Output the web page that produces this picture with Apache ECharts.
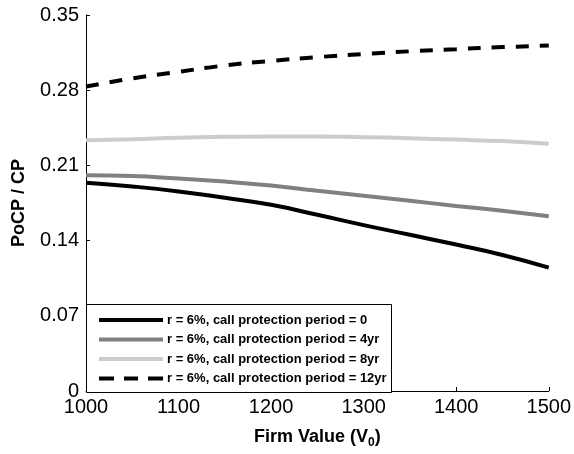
<!DOCTYPE html>
<html>
<head>
<meta charset="utf-8">
<script src="https://cdn.jsdelivr.net/npm/echarts@6/dist/echarts.min.js"></script>
<style>
  html, body { margin: 0; padding: 0; background: #fff; }
  #chart { width: 574px; height: 454px; }
</style>
</head>
<body>
<div id="chart"></div>
<script>
// Firm value grid (V0)
const firmValues = [1000, 1050, 1100, 1150, 1200, 1250, 1300, 1350, 1400, 1450, 1500];

// PoCP / CP ratio for each call protection period (r = 6%)
const period0  = [0.1938, 0.1904, 0.1858, 0.1798, 0.1733, 0.1640, 0.1544, 0.1454, 0.1363, 0.1266, 0.1148];
const period4  = [0.2008, 0.2001, 0.1977, 0.1950, 0.1913, 0.1864, 0.1817, 0.1770, 0.1723, 0.1677, 0.1627];
const period8  = [0.2333, 0.2343, 0.2358, 0.2366, 0.2370, 0.2370, 0.2363, 0.2353, 0.2340, 0.2326, 0.2302];
const period12 = [0.2834, 0.2910, 0.2971, 0.3030, 0.3073, 0.3108, 0.3136, 0.3162, 0.3182, 0.3201, 0.3215];

const seriesNames = [
  'r = 6%, call protection period = 0',
  'r = 6%, call protection period = 4yr',
  'r = 6%, call protection period = 8yr',
  'r = 6%, call protection period = 12yr'
];

const yTicks = [0, 0.07, 0.14, 0.21, 0.28, 0.35];
const xTicks = [1000, 1100, 1200, 1300, 1400, 1500];

function pairs(ys) {
  return firmValues.map((x, i) => [x, ys[i]]);
}

const FONT = 'Liberation Sans, Arial, sans-serif';

// legend swatches: a thick bar for solid lines, three short bars for the dashed one
const SOLID_ICON = 'path://M0,0H64V4H0Z';
const DASH_ICON = 'path://M0,0H15V4H0Z M25,0H39V4H25Z M49,0H64V4H49Z';

const lineDefs = [
  { data: period0,  color: '#000000', type: 'solid', icon: SOLID_ICON },
  { data: period4,  color: '#808080', type: 'solid', icon: SOLID_ICON },
  { data: period8,  color: '#cccccc', type: 'solid', icon: SOLID_ICON },
  { data: period12, color: '#000000', type: [13, 11], icon: DASH_ICON }
];

const chart = echarts.init(document.getElementById('chart'), null, { renderer: 'canvas' });

chart.setOption({
  animation: false,
  backgroundColor: '#ffffff',
  grid: { left: 86, right: 25, top: 15, bottom: 62, containLabel: false },
  xAxis: {
    type: 'value',
    min: xTicks[0],
    max: xTicks[xTicks.length - 1],
    interval: 100,
    name: '{n|Firm Value (V}{s|0}{n|)}',
    nameLocation: 'middle',
    nameGap: 34,
    nameTextStyle: {
      rich: {
        n: { fontFamily: FONT, fontWeight: 'bold', fontSize: 18, color: '#000' },
        s: { fontFamily: FONT, fontWeight: 'bold', fontSize: 12, color: '#000', verticalAlign: 'bottom', padding: [12, 0, 0, 0] }
      }
    },
    axisLine: { show: true, lineStyle: { color: '#000', width: 1 } },
    axisTick: { show: true, inside: true, length: 4, lineStyle: { color: '#000' } },
    axisLabel: { fontFamily: FONT, fontSize: 20, color: '#000', margin: 6, formatter: v => String(v) },
    splitLine: { show: false }
  },
  yAxis: {
    type: 'value',
    min: yTicks[0],
    max: yTicks[yTicks.length - 1],
    interval: 0.07,
    name: 'PoCP / CP',
    nameLocation: 'middle',
    nameGap: 58,
    nameMoveOverlap: false,
    nameTextStyle: { fontFamily: FONT, fontWeight: 'bold', fontSize: 18, color: '#000' },
    axisLine: { show: true, lineStyle: { color: '#000', width: 1 } },
    axisTick: { show: true, inside: true, length: 4, lineStyle: { color: '#000' } },
    axisLabel: {
      fontFamily: FONT, fontSize: 20, color: '#000', margin: 7,
      formatter: v => (Math.abs(v) < 1e-9 ? '0' : v.toFixed(2))
    },
    splitLine: { show: false }
  },
  legend: {
    orient: 'vertical',
    left: 99,
    top: 313,
    itemWidth: 64,
    itemHeight: 4,
    itemGap: 5.5,
    padding: 0,
    z: 5,
    textStyle: { fontFamily: FONT, fontWeight: 'bold', fontSize: 13, lineHeight: 14, color: '#000', padding: [0, 0, 0, -1] },
    data: seriesNames.map((n, i) => ({ name: n, icon: lineDefs[i].icon }))
  },
  graphic: [
    {
      type: 'rect',
      left: 86, top: 304,
      shape: { width: 305, height: 88 },
      style: { fill: '#fff', stroke: '#000', lineWidth: 1 },
      z: 4
    }
  ],
  series: lineDefs.map((d, i) => ({
    name: seriesNames[i],
    type: 'line',
    data: pairs(d.data),
    smooth: true,
    symbol: 'none',
    showSymbol: false,
    lineStyle: { color: d.color, width: 4, type: d.type },
    itemStyle: { color: d.color },
    z: 2
  }))
});
</script>
</body>
</html>
